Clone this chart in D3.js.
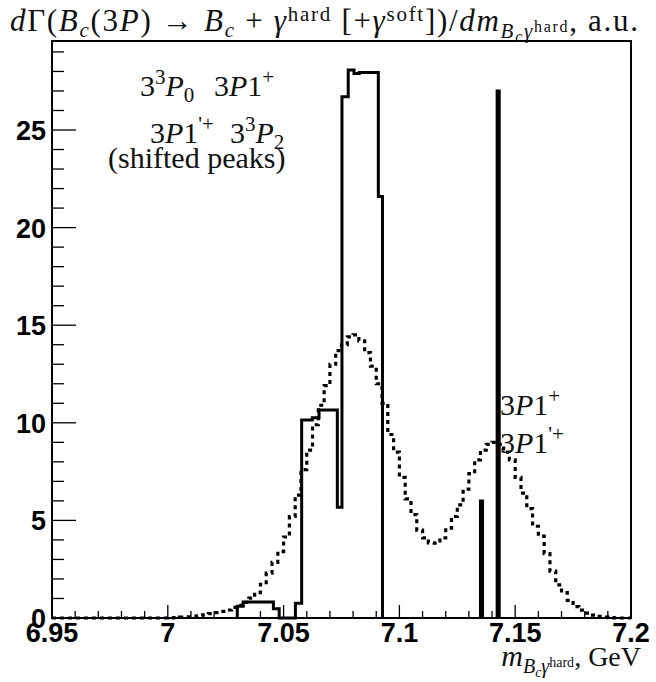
<!DOCTYPE html>
<html>
<head>
<meta charset="utf-8">
<script src="https://cdn.jsdelivr.net/npm/d3@7"></script>
<style>
  html, body { margin: 0; padding: 0; background: #fff; }
  svg { display: block; }
</style>
</head>
<body>
<svg id="chart" width="656" height="682"></svg>
<script>
// ---------------- data ----------------
const xDomain = [6.95, 7.2];
const yDomain = [0, 29.56];
const xTickValues = [6.95, 7.0, 7.05, 7.1, 7.15, 7.2];
const xTickLabels = ["6.95", "7", "7.05", "7.1", "7.15", "7.2"];
const yTickValues = [0, 5, 10, 15, 20, 25];
const yTickLabels = ["0", "5", "10", "15", "20", "25"];

// Solid histogram (shifted peaks): bin edges (GeV) and contents
const solidEdges = [7.0300, 7.0325, 7.0456, 7.0481, 7.0551, 7.0578, 7.0624, 7.0653,
                    7.0732, 7.0752, 7.0779, 7.0804, 7.0827, 7.0909, 7.0927];
const solidValues = [0.6, 0.82, 0.48, 0, 0.75, 10.14, 10.26, 10.66,
                     5.67, 26.7, 28.07, 27.9, 27.94, 21.6];

// Narrow peaks (3P1+, 3P1'+)
const narrowLo = [7.1350, 7.1422];
const narrowHi = [7.1359, 7.1431];
const narrowValues = [6, 27];

// Dotted histogram: 100 bins of 0.0025 GeV from 6.95
const dottedStart = 6.95;
const dottedWidth = 0.0025;
const dottedValues = [
  0,0,0,0,0,0,0,0,0,0,
  0,0,0,0,0,0,0,0,0,0,
  0.01,0.02,0.04,0.06,0.08,0.11,0.16,0.22,0.28,0.34,
  0.41,0.54,0.65,0.80,1.02,1.30,1.73,2.30,2.85,3.40,
  4.15,5.20,6.30,7.60,8.60,9.90,10.90,11.90,13.00,13.70,
  14.00,14.40,14.50,14.20,13.60,12.90,12.00,11.00,9.40,8.50,
  7.20,6.10,5.30,4.50,4.10,3.85,3.83,4.10,4.60,5.20,
  5.80,6.60,7.40,8.10,8.60,8.90,9.00,8.90,8.50,8.10,
  7.20,6.40,5.60,4.70,4.20,3.30,2.40,1.70,1.30,0.90,
  0.58,0.40,0.25,0.15,0.08,0.04,0.02,0.01,0,0
];

// ---------------- layout ----------------
const svg = d3.select("#chart");
const L = 52, R = 631, T = 41, B = 618;
const x = d3.scaleLinear().domain(xDomain).range([L, R]);
const y = d3.scaleLinear().domain(yDomain).range([B, T]);

svg.append("rect").attr("width", 656).attr("height", 682).attr("fill", "#fff");

// minor ticks
const xMinor = d3.range(0, 26).map(i => 6.95 + i * 0.01).filter(v => v <= 7.2001);
const yMinor = d3.range(0, 30).filter(v => v <= yDomain[1]);

const tickG = svg.append("g").attr("stroke", "#000").attr("stroke-width", 1.3);
tickG.selectAll("line.xm").data(xMinor).join("line")
  .attr("x1", d => x(d)).attr("x2", d => x(d))
  .attr("y1", B).attr("y2", d => B - (Math.abs(Math.round(d * 20) - d * 20) < 1e-6 ? 13 : 7));
tickG.selectAll("line.ym").data(yMinor).join("line")
  .attr("y1", d => y(d)).attr("y2", d => y(d))
  .attr("x1", L).attr("x2", d => L + (d % 5 === 0 ? 24 : 12));

// histograms
function stepPath(edges, values) {
  let p = `M${x(edges[0])},${y(0)}`;
  values.forEach((v, i) => {
    p += `V${y(v)}H${x(edges[i + 1])}`;
  });
  p += `V${y(0)}`;
  return p;
}

const dottedEdges = dottedValues.map((_, i) => dottedStart + i * dottedWidth)
  .concat([dottedStart + dottedValues.length * dottedWidth]);

svg.append("path")
  .attr("d", stepPath(dottedEdges, dottedValues))
  .attr("fill", "none").attr("stroke", "#000")
  .attr("stroke-width", 3.2).attr("stroke-dasharray", "4 4");

svg.append("path")
  .attr("d", stepPath(solidEdges, solidValues))
  .attr("fill", "none").attr("stroke", "#000")
  .attr("stroke-width", 3).attr("stroke-linejoin", "miter");

narrowValues.forEach((v, i) => {
  svg.append("path")
    .attr("d", stepPath([narrowLo[i], narrowHi[i]], [v]))
    .attr("fill", "#000").attr("stroke", "#000").attr("stroke-width", 3);
});

// frame
svg.append("rect").attr("x", L).attr("y", T).attr("width", R - L).attr("height", B - T)
  .attr("fill", "none").attr("stroke", "#000").attr("stroke-width", 2);

// tick labels
const lab = svg.append("g").attr("font-family", "Liberation Sans, Arial, sans-serif")
  .attr("font-weight", "bold").attr("font-size", 27).attr("fill", "#000");
lab.selectAll("text.xl").data(xTickValues).join("text")
  .attr("x", d => x(d)).attr("y", 642).attr("text-anchor", "middle")
  .text((d, i) => xTickLabels[i]);
lab.selectAll("text.yl").data(yTickValues).join("text")
  .attr("x", 46).attr("y", d => y(d) + 10).attr("text-anchor", "end")
  .text((d, i) => yTickLabels[i]);

// rich text helper: segs = [text, italic, offset, size]
function rich(xp, yp, segs, anchor) {
  const t = svg.append("text").attr("x", xp).attr("y", yp)
    .attr("font-family", "Liberation Serif, Times New Roman, serif")
    .attr("fill", "#111").attr("text-anchor", anchor || "start");
  let cur = 0;
  segs.forEach(s => {
    const [txt, it, off, size] = s;
    t.append("tspan").attr("dy", off - cur).attr("font-size", size)
      .attr("font-style", it ? "italic" : "normal").text(txt);
    cur = off;
  });
  return t;
}

const F = 30, S = 21, SS = 15;
const TF = 31, TS = 21, TSS = 16;
// title
rich(10, 31, [
  ["d", true, 0, TF], ["Γ(", false, 0, TF], ["B", true, 0, TF], ["c", true, 6, TS],
  ["(3", false, 0, TF], ["P", true, 0, TF], [") → ", false, 0, TF], ["B", true, 0, TF],
  ["c", true, 6, TS], [" + ", false, 0, TF], ["γ", true, 0, TF], ["hard", false, -10, TS],
  [" [+", false, 0, TF], ["γ", true, 0, TF], ["soft", false, -10, TS], ["])/", false, 0, TF],
  ["d", true, 0, TF], ["m", true, 0, TF], ["B", true, 7, TS], ["c", true, 11, TSS],
  ["γ", true, 7, TS], ["hard", false, 1, TSS], [", a.u.", false, 0, TF]
]).attr("textLength", 628).attr("lengthAdjust", "spacing");

// annotations
rich(140, 96, [["3", false, 0, F], ["3", false, -12, S], ["P", true, 0, F], ["0", false, 6, S]]);
rich(214, 96, [["3", false, 0, F], ["P", true, 0, F], ["1", false, 0, F], ["+", false, -12, S]]);
rich(150, 143, [["3", false, 0, F], ["P", true, 0, F], ["1", false, 0, F], ["'+", false, -12, S]]);
rich(230, 143, [["3", false, 0, F], ["3", false, -12, S], ["P", true, 0, F], ["2", false, 6, S]]);
rich(108, 168, [["(shifted peaks)", false, 0, F]]);
rich(500, 415, [["3", false, 0, F], ["P", true, 0, F], ["1", false, 0, F], ["+", false, -12, S]]);
rich(500, 453, [["3", false, 0, F], ["P", true, 0, F], ["1", false, 0, F], ["'+", false, -12, S]]);

// axis title
rich(641, 666, [["m", true, 0, 30], ["B", true, 7, 20], ["c", true, 11, 14], ["γ", true, 7, 20],
  ["hard", false, 1, 14], [", GeV", false, 0, 28]], "end");
</script>
</body>
</html>
